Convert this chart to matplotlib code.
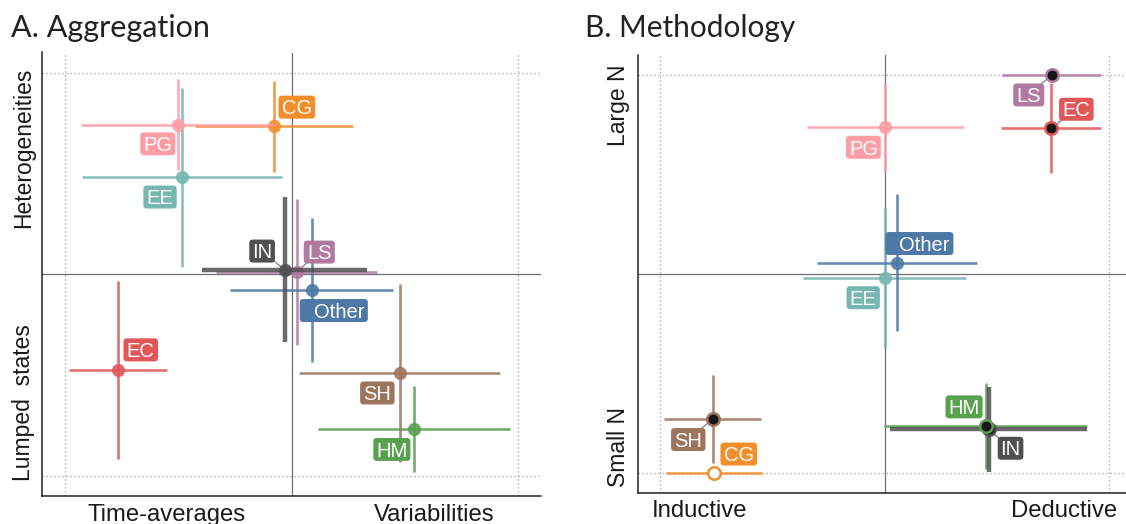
import matplotlib
matplotlib.use("Agg")
import matplotlib.pyplot as plt
import matplotlib.transforms as mtransforms
from matplotlib.patches import FancyBboxPatch
from matplotlib.textpath import TextPath
from matplotlib.font_manager import FontProperties

# ---------------- data ----------------
groups = ["CG", "EC", "EE", "HM", "LS", "Other", "PG", "SH", "IN"]
colors = {"CG": "#F28E2B", "EC": "#E15759", "EE": "#76B7B2", "HM": "#59A14F",
          "LS": "#B07AA1", "Other": "#4E79A7", "PG": "#FF9DA7", "SH": "#9C755F",
          "IN": "#505050"}

# Panel A: Aggregation
a_x    = [-0.076, -0.765, -0.484, 0.540, 0.022, 0.088, -0.500, 0.476, -0.031]
a_y    = [0.734, -0.474, 0.480, -0.768, 0.011, -0.078, 0.742, -0.490, 0.022]
a_xerr = [0.348, 0.215, 0.441, 0.425, 0.356, 0.358, 0.429, 0.442, 0.362]
a_yerr = [0.225, 0.442, 0.442, 0.214, 0.362, 0.356, 0.225, 0.440, 0.360]
a_lab_x = [0.023, -0.665, -0.580, 0.442, 0.122, 0.186, -0.590, 0.378, -0.130]
a_lab_y = [0.829, -0.375, 0.383, -0.869, 0.110, -0.180, 0.647, -0.589, 0.115]
a_connect = ["LS", "IN"]
a_xticks = [-0.55, 0.63]
a_xticklabels = ["Time-averages", "Variabilities"]
a_yticks = [0.625, -0.636]
a_yticklabels = ["Heterogeneities", "Lumped  states"]

# Panel B: Methodology
b_x    = [-0.760, 0.742, 0.000, 0.450, 0.744, 0.055, 0.004, -0.766, 0.463]
b_y    = [-1.000, 0.734, -0.020, -0.762, 1.000, 0.058, 0.737, -0.728, -0.779]
b_xerr = [0.215, 0.222, 0.362, 0.452, 0.219, 0.355, 0.348, 0.217, 0.439]
b_yerr = [0.000, 0.224, 0.352, 0.215, 0.000, 0.343, 0.222, 0.222, 0.215]
b_lab_x = [-0.649, 0.854, -0.095, 0.354, 0.642, 0.155, -0.094, -0.874, 0.561]
b_lab_y = [-0.903, 0.828, -0.118, -0.666, 0.900, 0.154, 0.637, -0.830, -0.874]
b_connect = ["LS", "EC", "SH", "IN"]
b_black = ["LS", "EC", "SH", "HM", "IN"]
b_hollow = ["CG"]
b_xticks = [-0.826, 0.80]
b_xticklabels = ["Inductive", "Deductive"]
b_yticks = [0.849, -0.866]
b_yticklabels = ["Large N", "Small N"]

# ---------------- figure ----------------
W, H, DPI = 1126, 524, 100
plt.rcParams['font.family'] = ['Liberation Sans', 'DejaVu Sans']
fig = plt.figure(figsize=(W / DPI, H / DPI), dpi=DPI)

axA = fig.add_axes([42.1 / W, 28.0 / H, 499.0 / W, 443.5 / H])
axB = fig.add_axes([637.5 / W, 30.7 / H, 494.1 / W, 438.2 / H])

LFS = 14.5
lfp = FontProperties(family='Liberation Sans', size=LFS)
tfp_x = FontProperties(family='Liberation Sans', size=17.2)
tfp_y = FontProperties(family='Liberation Sans', size=16.5)


def add_label(ax, x, y, s, color, extra_left=0.0):
    tp = TextPath((0, 0), s, prop=lfp)
    ext = tp.get_extents()
    ink = ext.width * DPI / 72.0
    padx = 4.5
    bh = 23.0
    bw = ink + 2 * padx + extra_left
    trans = fig.dpi_scale_trans + mtransforms.ScaledTranslation(x, y, ax.transData)
    box = FancyBboxPatch((-bw / 2 / DPI, -bh / 2 / DPI), bw / DPI, bh / DPI,
                         boxstyle="round,pad=0,rounding_size=%f" % (3.5 / DPI),
                         transform=trans, fc=color, ec='none', zorder=5,
                         clip_on=False)
    ax.add_patch(box)
    cap = 0.716 * LFS * DPI / 72.0
    ttrans = ax.transData + mtransforms.ScaledTranslation(
        extra_left / 2 / DPI, -cap / 2 / DPI, fig.dpi_scale_trans)
    ax.text(x, y, s, transform=ttrans, ha='center', va='baseline',
            color='white', fontproperties=lfp, zorder=6)


def panel(ax, xs, ys, xerr, yerr, lx, ly, connect, black=(), hollow=(), last_dots=()):
    ax.set_xlim(-1.1, 1.1)
    ax.set_ylim(-1.1, 1.1)
    for v in (-1, 1):
        ax.axvline(v, color='#9a9a9a', lw=0.9, ls=(0, (1, 2.2)), zorder=0.5)
        ax.axhline(v, color='#9a9a9a', lw=0.9, ls=(0, (1, 2.2)), zorder=0.5)
    ax.axvline(0, color='#6e6e6e', lw=0.9, zorder=1)
    ax.axhline(0, color='#6e6e6e', lw=0.9, zorder=1)
    for k, g in enumerate(groups):
        i = k
        c = colors[g]
        lw = 3.2 if g == "IN" else 1.9
        z = 2 + k * 0.1
        if xerr[i] > 0:
            ax.plot([xs[i] - xerr[i], xs[i] + xerr[i]], [ys[i], ys[i]], color=c,
                    lw=lw, alpha=0.85, solid_capstyle='butt', zorder=z, clip_on=False)
        if yerr[i] > 0:
            ax.plot([xs[i], xs[i]], [ys[i] - yerr[i], ys[i] + yerr[i]], color=c,
                    lw=lw, alpha=0.85, solid_capstyle='butt', zorder=z, clip_on=False)
        if g in connect:
            ax.plot([lx[i], xs[i]], [ly[i], ys[i]], color='#777777', lw=0.8,
                    zorder=z + 0.02)
        if g in hollow:
            ax.plot(xs[i], ys[i], 'o', ms=9, mfc='white', mec=c, mew=1.8,
                    zorder=z + 0.05, clip_on=False)
        elif g in black:
            ax.plot(xs[i], ys[i], 'o', ms=9, mfc='#161616', mec=c, mew=1.8,
                    zorder=(z + 0.05 if g not in last_dots else 4.5), clip_on=False)
        else:
            ax.plot(xs[i], ys[i], 'o', ms=9.5, color=c, alpha=0.9, mew=0,
                    zorder=z + 0.05, clip_on=False)
    for i, g in enumerate(groups):
        add_label(ax, lx[i], ly[i], g, colors[g], extra_left=(10.0 if g == "Other" else 0.0))
    for side in ('top', 'right'):
        ax.spines[side].set_visible(False)
    for side in ('left', 'bottom'):
        ax.spines[side].set_color('#222222')
        ax.spines[side].set_linewidth(1.1)
    ax.tick_params(length=0, colors='#1a1a1a')


def set_ticks(ax, xt, xl, yt, yl, xpad, ypad):
    ax.set_xticks(xt)
    ax.set_xticklabels(xl, fontproperties=tfp_x)
    ax.set_yticks(yt)
    ax.set_yticklabels(yl, fontproperties=tfp_y, rotation=90, va='center')
    ax.tick_params(axis='x', pad=xpad)
    ax.tick_params(axis='y', pad=ypad)


panel(axA, a_x, a_y, a_xerr, a_yerr, a_lab_x, a_lab_y, a_connect)
set_ticks(axA, a_xticks, a_xticklabels, a_yticks, a_yticklabels, 6.0, 5)

panel(axB, b_x, b_y, b_xerr, b_yerr, b_lab_x, b_lab_y, b_connect,
      black=b_black, hollow=b_hollow, last_dots=["HM"])
set_ticks(axB, b_xticks, b_xticklabels, b_yticks, b_yticklabels, 4.6, 5.5)

fig.text(11 / W, (H - 36.7) / H, "A. Aggregation", fontsize=22,
         family=['Lato', 'DejaVu Sans'], color='#222222', ha='left', va='baseline')
fig.text(585 / W, (H - 36.7) / H, "B. Methodology", fontsize=21.5,
         family=['Lato', 'DejaVu Sans'], color='#222222', ha='left', va='baseline')

fig.savefig("out.png", dpi=DPI, facecolor='white')
